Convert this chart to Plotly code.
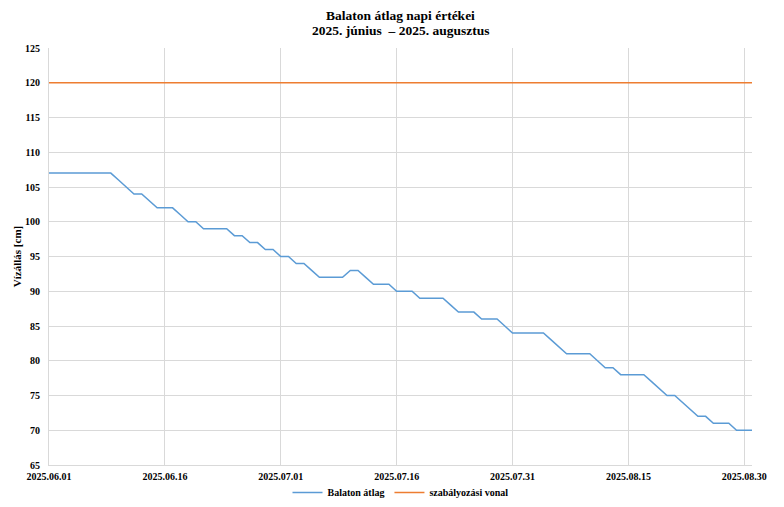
import pandas as pd
import plotly.graph_objects as go

dates = pd.date_range("2025-06-01", "2025-08-31", freq="D")
balaton = (
    [107] * 9 + [106, 105] + [104] * 2 + [103] + [102] * 3 + [101] + [100] * 2
    + [99] * 4 + [98] * 2 + [97] * 2 + [96] * 2 + [95] * 2 + [94] * 2 + [93]
    + [92] * 4 + [93] * 2 + [92] + [91] * 3 + [90] * 3 + [89] * 4 + [88]
    + [87] * 3 + [86] * 3 + [85] + [84] * 5 + [83, 82] + [81] * 4 + [80]
    + [79] * 2 + [78] * 4 + [77, 76] + [75] * 2 + [74, 73] + [72] * 2
    + [71] * 3 + [70] * 3
)
szabalyozasi = [120] * len(dates)

series_names = ["Balaton átlag", "szabályozási vonal"]
title_lines = ["Balaton átlag napi értékei", "2025. június  – 2025. augusztus"]
y_label = "Vízállás [cm]"

FONT = "Liberation Serif"
fig = go.Figure()
fig.add_trace(go.Scatter(x=dates, y=balaton, mode="lines", name="<b>" + series_names[0] + "</b>",
                         line=dict(color="#5b9bd5", width=1.5)))
fig.add_trace(go.Scatter(x=dates, y=szabalyozasi, mode="lines", name="<b>" + series_names[1] + "</b>",
                         line=dict(color="#ed7d31", width=1.7)))

title_font = dict(family=FONT, size=13.5, color="#000")
# page body adds an 8px offset, so the figure is 8px smaller than the window
fig.update_layout(
    width=776, height=499,
    margin=dict(l=41, r=32, t=40, b=42),
    paper_bgcolor="white", plot_bgcolor="white",
    font=dict(family=FONT, color="#000000", size=10),
    showlegend=True,
    legend=dict(orientation="h", x=0.5, xanchor="center", yref="container", y=-0.012,
                yanchor="bottom", bgcolor="rgba(0,0,0,0)",
                font=dict(family=FONT, size=10, color="#000"), itemwidth=30),
    annotations=[
        dict(text="<b>" + y_label + "</b>", xref="paper", yref="paper",
             x=-0.046, y=0.5, xanchor="center", yanchor="middle", textangle=-90,
             showarrow=False, font=dict(family=FONT, size=11, color="#000")),
        dict(text="<b>" + title_lines[0] + "</b>", xref="paper", yref="paper",
             x=0.5, y=1.078, xanchor="center", yanchor="middle", showarrow=False,
             font=title_font),
        dict(text="<b>" + title_lines[1] + "</b>", xref="paper", yref="paper",
             x=0.5, y=1.042, xanchor="center", yanchor="middle", showarrow=False,
             font=title_font),
    ],
)
fig.update_xaxes(
    type="date", range=[dates[0], dates[-1]], automargin=False,
    tick0="2025-06-01", dtick=15 * 86400000, tickformat="<b>%Y.%m.%d</b>",
    showgrid=True, gridcolor="#d9d9d9", gridwidth=1,
    showline=True, linecolor="#d9d9d9", linewidth=1,
    ticks="", ticklabelstandoff=2, tickfont=dict(family=FONT, size=10, color="#000"),
)
fig.update_yaxes(
    range=[65, 125], dtick=5, tick0=65, automargin=False,
    showgrid=True, gridcolor="#d9d9d9", gridwidth=1,
    showline=True, linecolor="#d9d9d9", linewidth=1, zeroline=False,
    ticks="", ticklabelstandoff=6,
    tickfont=dict(family=FONT, size=10, color="#000"),
    tickprefix="<b>", ticksuffix="</b>",
)
fig.write_html("out.html")
